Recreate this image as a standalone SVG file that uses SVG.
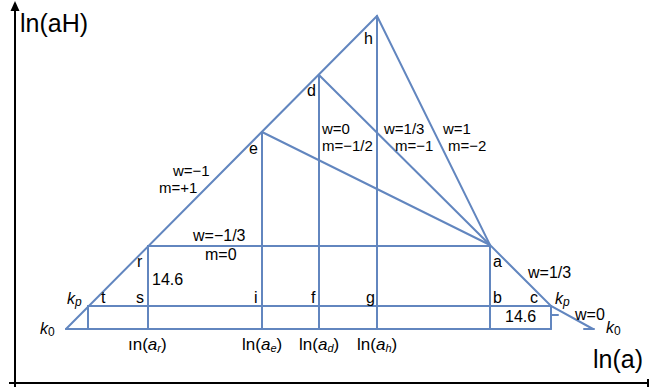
<svg xmlns="http://www.w3.org/2000/svg" width="649" height="391" viewBox="0 0 649 391">
<defs>
<style>
.ax{stroke:#000;stroke-width:2;fill:none}
.ln{stroke:#6286bf;stroke-width:2;fill:none;stroke-linecap:round}
text{font-family:"Liberation Sans",Arial,sans-serif;fill:#000}
.big{font-size:25px}
.lb{font-size:16px}
.tight{font-size:15px}
.sm{font-size:17px}
.it{font-style:italic}
</style>
</defs>
<rect width="649" height="391" fill="#fff"/>
<g id="axes">
<line class="ax" x1="15" y1="387" x2="15" y2="3"/>
<path d="M10.5,11 L15,1 L19.5,11 Z" fill="#000"/>
<line class="ax" x1="9" y1="383" x2="648" y2="383"/>
<line class="ax" x1="648" y1="379" x2="648" y2="387"/>
<text class="big" x="20" y="32">ln(aH)</text>
<text class="big" x="593" y="368">ln(a)</text>
</g>
<g id="connectors">
<polyline class="ln" points="66,329 377,16 490,245 551,306 593,329"/>
<line class="ln" x1="66" y1="329" x2="551" y2="329"/>
<line class="ln" x1="88" y1="306" x2="551" y2="306"/>
<line class="ln" x1="148" y1="246" x2="490" y2="246"/>
<line class="ln" x1="88" y1="306" x2="88" y2="329"/>
<line class="ln" x1="148" y1="246" x2="148" y2="329"/>
<line class="ln" x1="262" y1="132" x2="262" y2="329"/>
<line class="ln" x1="319" y1="75" x2="319" y2="329"/>
<line class="ln" x1="377" y1="16" x2="377" y2="329"/>
<line class="ln" x1="490" y1="245" x2="490" y2="329"/>
<line class="ln" x1="551" y1="306" x2="551" y2="329"/>
<line class="ln" x1="551" y1="315" x2="558" y2="315"/>
<line class="ln" x1="262" y1="132" x2="490" y2="245"/>
<line class="ln" x1="319" y1="75" x2="490" y2="245"/>
<line class="ln" x1="584" y1="329" x2="594" y2="329"/>
</g>
<g id="vertex-labels" class="lb">
<text x="364" y="44">h</text>
<text x="307" y="96">d</text>
<text x="249" y="154">e</text>
<text x="137" y="267">r</text>
<text x="136" y="303">s</text>
<text x="101" y="303">t</text>
<text x="254" y="303">i</text>
<text x="311" y="303">f</text>
<text x="366" y="303">g</text>
<text x="493" y="267">a</text>
<text x="493" y="303">b</text>
<text x="530" y="303">c</text>
</g>
<g id="line-labels" class="lb">
<text class="tight" x="322" y="134">w=0</text>
<text class="tight" x="322" y="151">m=−1/2</text>
<text class="tight" x="384" y="134">w=1/3</text>
<text class="tight" x="395" y="151">m=−1</text>
<text class="tight" x="443" y="134">w=1</text>
<text class="tight" x="448" y="151">m=−2</text>
<text class="tight" x="173" y="176">w=−1</text>
<text class="tight" x="159" y="193">m=+1</text>
<text x="193" y="241">w=−1/3</text>
<text x="205" y="260">m=0</text>
<text x="152" y="285">14.6</text>
<text x="505" y="322">14.6</text>
<text x="528" y="278">w=1/3</text>
<text x="575" y="320">w=0</text>
</g>
<g id="k-labels" class="lb">
<text x="67" y="304"><tspan class="it">k</tspan><tspan class="it" font-size="12" dy="2">p</tspan></text>
<text x="40" y="334"><tspan class="it">k</tspan><tspan font-size="12" dy="2">0</tspan></text>
<text x="555" y="304"><tspan class="it">k</tspan><tspan class="it" font-size="12" dy="2">p</tspan></text>
<text x="606" y="333"><tspan class="it">k</tspan><tspan font-size="12" dy="2">0</tspan></text>
</g>
<g id="x-labels" class="sm">
<text x="128" y="350">ın(<tspan class="it">a</tspan><tspan class="it" font-size="11" dy="2">r</tspan><tspan dy="-2">)</tspan></text>
<text x="242" y="350">ln(<tspan class="it">a</tspan><tspan class="it" font-size="11" dy="2">e</tspan><tspan dy="-2">)</tspan></text>
<text x="299" y="350">ln(<tspan class="it">a</tspan><tspan class="it" font-size="11" dy="2">d</tspan><tspan dy="-2">)</tspan></text>
<text x="357" y="350">ln(<tspan class="it">a</tspan><tspan class="it" font-size="11" dy="2">h</tspan><tspan dy="-2">)</tspan></text>
</g>
</svg>
